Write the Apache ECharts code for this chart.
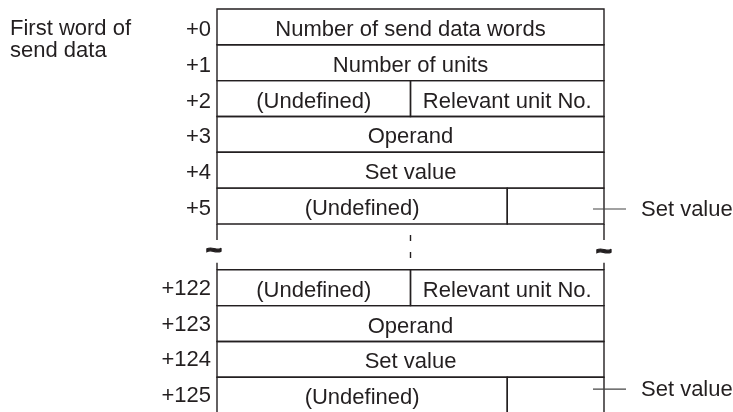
<!DOCTYPE html>
<html>
<head>
<meta charset="utf-8">
<script src="https://cdn.jsdelivr.net/npm/echarts@6/dist/echarts.min.js"></script>
<style>html,body{margin:0;padding:0;background:#fff}#c{width:733px;height:412px}</style>
</head>
<body>
<div id="c"></div>
<script>
// ---- data ----
const rowLabels = ['+0', '+1', '+2', '+3', '+4', '+5', '+122', '+123', '+124', '+125'];
const rowFields = [
  ['Number of send data words'],
  ['Number of units'],
  ['(Undefined)', 'Relevant unit No.'],
  ['Operand'],
  ['Set value'],
  ['(Undefined)', ''],
  ['(Undefined)', 'Relevant unit No.'],
  ['Operand'],
  ['Set value'],
  ['(Undefined)', '']
];
const rowFieldBits = [[16], [16], [8, 8], [16], [16], [12, 4], [8, 8], [16], [16], [12, 4]];
const calloutRows = ['+5', '+125'];
const calloutText = 'Set value';
const sideNote = 'First word of\nsend data';
const wordBits = 16;

// ---- layout / style ----
const FONT = '"Liberation Sans", Arial, Helvetica, sans-serif';
const FS = 22;
const INK = '#231f20';
const LW = 1.4;
const GAP = 1.28;
const calloutDy = { '+5': 3, '+125': -6 };

// break position: where label numbers are not consecutive
const breakIdx = rowLabels.findIndex((l, i) => i > 0 && parseInt(l) - parseInt(rowLabels[i - 1]) > 1);
function rowTop(i) { return i + (breakIdx > 0 && i >= breakIdx ? GAP : 0); }

function renderItem(params, api) {
  const i = api.value(0);
  const top = rowTop(i);
  const y0 = api.coord([0, top])[1];
  const y1 = api.coord([0, top + 1])[1];
  const yc = (y0 + y1) / 2;
  const xL = api.coord([0, top])[0];
  const xR = api.coord([wordBits, top])[0];
  const children = [];
  let bit = 0;
  rowFieldBits[i].forEach((b, k) => {
    const xa = api.coord([bit, top])[0];
    const xb = api.coord([bit + b, top])[0];
    children.push({ type: 'rect', shape: { x: xa, y: y0, width: xb - xa, height: y1 - y0 },
      style: { fill: 'none', stroke: INK, lineWidth: LW } });
    if (rowFields[i][k]) {
      children.push({ type: 'text', style: { text: rowFields[i][k], x: (xa + xb) / 2, y: yc + 3,
        align: 'center', verticalAlign: 'middle', fontSize: FS, fontFamily: FONT, fill: INK } });
    }
    bit += b;
  });
  // row offset label
  children.push({ type: 'text', style: { text: rowLabels[i], x: xL - 6, y: yc + (i < breakIdx ? 3 : 1),
    align: 'right', verticalAlign: 'middle', fontSize: FS, fontFamily: FONT, fill: INK } });
  // callout
  if (calloutRows.includes(rowLabels[i])) {
    const cy = yc + (calloutDy[rowLabels[i]] || 0);
    children.push({ type: 'line', shape: { x1: xR - 11, y1: cy, x2: xR + 22, y2: cy },
      style: { stroke: '#444', lineWidth: 1.1 } });
    children.push({ type: 'text', style: { text: calloutText, x: xR + 37, y: cy + 1,
      align: 'left', verticalAlign: 'middle', fontSize: FS, fontFamily: FONT, fill: INK } });
  }
  // break marks above the first row after the break
  if (i === breakIdx) {
    const yb0 = api.coord([0, rowTop(breakIdx - 1) + 1])[1];
    const yb1 = y0;
    const xm = api.coord([rowFieldBits[i][0], top])[0];
    [xL, xR].forEach(x => {
      children.push({ type: 'line', shape: { x1: x, y1: yb0, x2: x, y2: yb0 + 16 }, style: { stroke: INK, lineWidth: LW } });
      children.push({ type: 'line', shape: { x1: x, y1: yb1 - 7, x2: x, y2: yb1 }, style: { stroke: INK, lineWidth: LW } });
    });
    children.push({ type: 'line', shape: { x1: xm, y1: yb0, x2: xm, y2: yb1 },
      style: { stroke: INK, lineWidth: LW, lineDash: [6, 11], lineDashOffset: 6 } });
    const ty = (yb0 + yb1) / 2 + 4;
    [[xL - 3, ty], [xR, ty + 1]].forEach(([tx, tyy]) => {
      children.push({ type: 'text', style: { text: '~', x: tx, y: tyy, align: 'center', verticalAlign: 'middle',
        fontSize: 28, fontWeight: 'bold', fontFamily: FONT, fill: INK, stroke: INK, lineWidth: 1.2 } });
    });
  }
  return { type: 'group', children };
}

const chart = echarts.init(document.getElementById('c'), null, { renderer: 'canvas' });
chart.setOption({
  animation: false,
  backgroundColor: '#fff',
  grid: { left: 217, right: 129, top: 9, bottom: 0 },
  xAxis: { type: 'value', min: 0, max: wordBits, show: false },
  yAxis: { type: 'value', inverse: true, min: 0, max: 11.25, show: false },
  graphic: [{ type: 'text', left: 10, top: 18,
    style: { text: sideNote, fontSize: FS, lineHeight: 21.5, fontFamily: FONT, fill: INK } }],
  series: [{
    type: 'custom',
    renderItem,
    clip: false,
    data: rowLabels.map((l, i) => [i])
  }]
});
</script>
</body>
</html>
